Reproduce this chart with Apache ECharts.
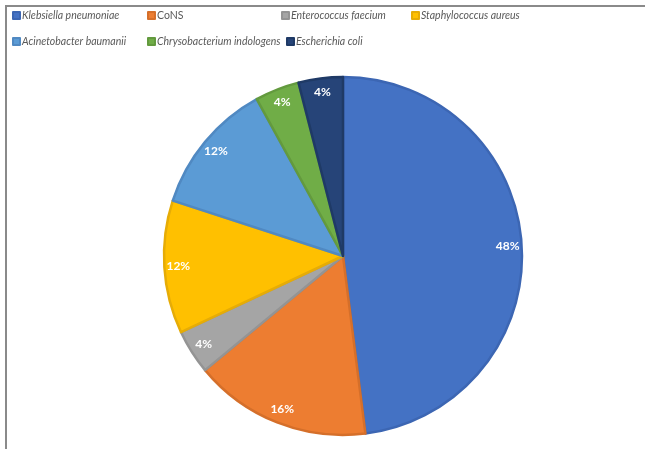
<!DOCTYPE html>
<html>
<head>
<meta charset="utf-8">
<script src="https://cdn.jsdelivr.net/npm/echarts@6/dist/echarts.min.js"></script>
<style>
  html, body { margin: 0; padding: 0; background: #ffffff; }
  #chart { width: 645px; height: 449px; }
</style>
</head>
<body>
<div id="chart"></div>
<script>
// Organisms isolated and their share of isolates (%)
const organisms = [
  'Klebsiella pneumoniae',
  'CoNS',
  'Enterococcus faecium',
  'Staphylococcus aureus',
  'Acinetobacter baumanii',
  'Chrysobacterium indologens',
  'Escherichia coli'
];
const shares = [48, 16, 4, 12, 12, 4, 4];

// Slice fills and their slightly darker outlines
const fillColors = ['#4472C4', '#ED7D31', '#A5A5A5', '#FFC000', '#5B9BD5', '#70AD47', '#264478'];
const edgeColors = ['#3C66B3', '#D56F2A', '#949494', '#E6AC06', '#5089C2', '#639A3E', '#1F3A66'];

// Legend placement: [left, top] of each entry
const legendSlots = [[12, 10], [147, 10], [281, 10], [411, 10], [12, 36], [147, 36], [286, 36]];

const pieData = organisms.map((name, i) => ({
  name: name,
  value: shares[i],
  itemStyle: { color: fillColors[i], borderColor: edgeColors[i], borderWidth: 2.5 }
}));

const legends = organisms.map((name, i) => ({
  data: [{ name: name, icon: 'rect' }],
  left: legendSlots[i][0],
  top: legendSlots[i][1],
  itemWidth: 7,
  itemHeight: 7,
  padding: 0,
  selectedMode: false,
  textStyle: {
    fontFamily: 'Lato',
    fontSize: 10.5,
    fontStyle: name === 'CoNS' ? 'normal' : 'italic',
    color: '#595959',
    padding: [0, 0, 0, -3]
  }
}));

const chart = echarts.init(document.getElementById('chart'), null, { renderer: 'canvas' });
chart.setOption({
  animation: false,
  backgroundColor: '#ffffff',
  legend: legends,
  graphic: [{
    type: 'polyline',
    shape: { points: [[6, 449], [6, 6], [645, 6]] },
    style: { stroke: '#8a8a8a', lineWidth: 2, fill: null },
    silent: true
  }],
  series: [
    {
      type: 'pie',
      center: [343, 256],
      radius: [0, 179],
      startAngle: 90,
      clockwise: true,
      data: pieData,
      label: { show: false },
      labelLine: { show: false },
      emphasis: { disabled: true }
    },
    {
      // label ring: same values, no fill, places percentages near the rim
      type: 'pie',
      center: [343, 256],
      radius: [145, 179],
      startAngle: 90,
      clockwise: true,
      silent: true,
      legendHoverLink: false,
      data: organisms.map((name, i) => ({ name: name, value: shares[i] })),
      itemStyle: { color: 'rgba(0,0,0,0)', borderWidth: 0 },
      label: {
        show: true,
        position: 'inside',
        formatter: '{c}%',
        color: '#ffffff',
        fontFamily: 'Lato',
        fontWeight: 'bold',
        fontSize: 12
      },
      labelLine: { show: false },
      emphasis: { disabled: true }
    }
  ]
});
</script>
</body>
</html>
